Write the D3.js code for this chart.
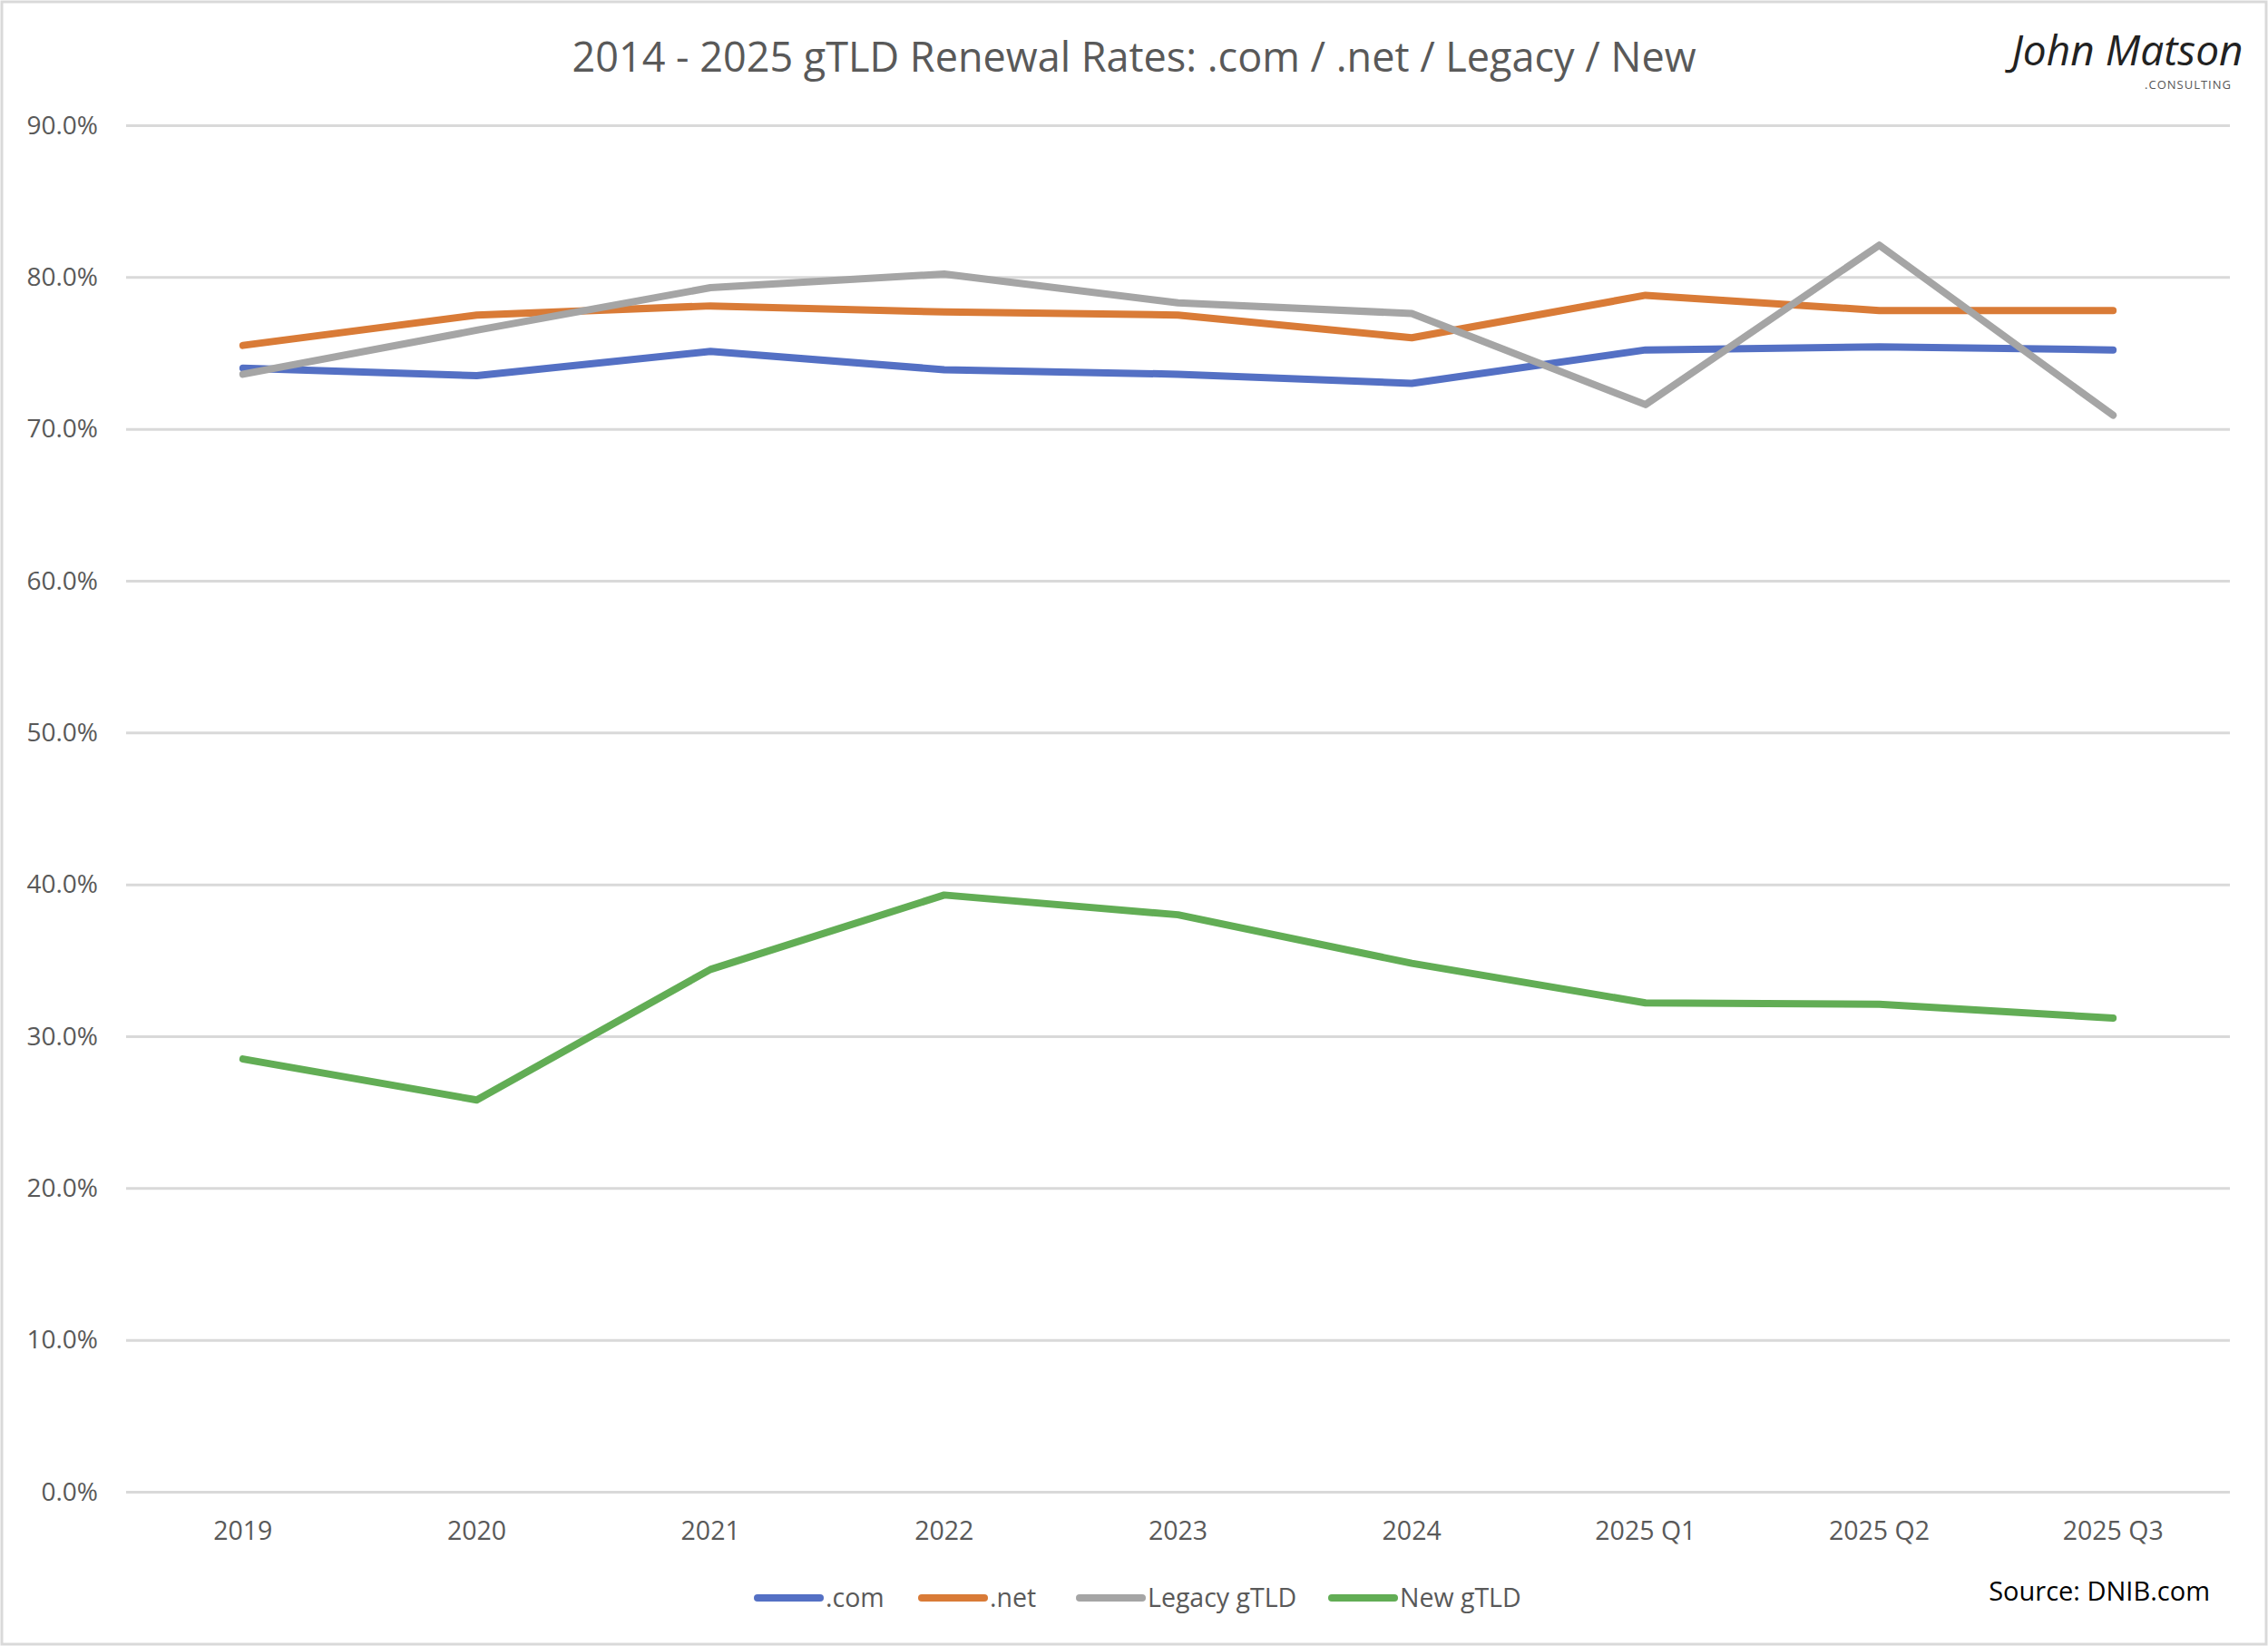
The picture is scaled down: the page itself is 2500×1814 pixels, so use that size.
<!DOCTYPE html>
<html>
<head>
<meta charset="utf-8">
<script src="https://cdn.jsdelivr.net/npm/d3@7"></script>
<style>
  body { margin: 0; background: #fff; }
  svg text { font-family: "Open Sans", sans-serif; }
  .grid line { stroke: #d9d9d9; stroke-width: 3; }
  .grid path { display: none; }
</style>
</head>
<body>
<svg id="chart" width="2500" height="1814"></svg>
<script>
// categories and series
var categories = ["2019", "2020", "2021", "2022", "2023", "2024", "2025 Q1", "2025 Q2", "2025 Q3"];
var comRates    = [74.0, 73.5, 75.1, 73.9, 73.6, 73.0, 75.2, 75.4, 75.2];
var netRates    = [75.5, 77.5, 78.1, 77.7, 77.5, 76.0, 78.8, 77.8, 77.8];
var legacyRates = [73.6, 76.5, 79.3, 80.2, 78.3, 77.6, 71.6, 82.1, 70.9];
var newRates    = [28.5, 25.8, 34.4, 39.3, 38.0, 34.8, 32.2, 32.1, 31.2];
var seriesNames = [".com", ".net", "Legacy gTLD", "New gTLD"];
var seriesColors = ["#5470c4", "#d97b37", "#a5a5a5", "#62ad55"];
var yTicks = [0, 10, 20, 30, 40, 50, 60, 70, 80, 90];

var series = [comRates, netRates, legacyRates, newRates];

var svg = d3.select("#chart");

// outer frame
svg.append("rect")
  .attr("x", 2).attr("y", 2).attr("width", 2496).attr("height", 1810)
  .attr("fill", "#fff").attr("stroke", "#d9d9d9").attr("stroke-width", 3);

var x = d3.scaleBand().domain(categories).range([139, 2458]);
var y = d3.scaleLinear().domain([0, 90]).range([1644, 138]);

// horizontal gridlines
svg.append("g").classed("grid", true)
  .attr("transform", "translate(139,0)")
  .call(d3.axisRight(y).tickValues(yTicks).tickSize(2458 - 139).tickFormat(""));

// y labels
svg.append("g").selectAll("text")
  .data(yTicks).enter().append("text")
  .attr("x", 108).attr("y", function(d) { return y(d); })
  .attr("dy", "0.35em").attr("text-anchor", "end")
  .attr("font-size", 28).attr("fill", "#595959")
  .text(function(d) { return d.toFixed(1) + "%"; });

// x labels
svg.append("g").selectAll("text")
  .data(categories).enter().append("text")
  .attr("x", function(d) { return x(d) + x.bandwidth() / 2; })
  .attr("y", 1697).attr("text-anchor", "middle")
  .attr("font-size", 28.5).attr("fill", "#595959")
  .text(function(d) { return d; });

var line = d3.line()
  .x(function(d, i) { return x(categories[i]) + x.bandwidth() / 2; })
  .y(function(d) { return y(d); });

svg.append("g").selectAll("path")
  .data(series).enter().append("path")
  .attr("d", line)
  .attr("fill", "none")
  .attr("stroke", function(d, i) { return seriesColors[i]; })
  .attr("stroke-width", 8)
  .attr("stroke-linecap", "round")
  .attr("stroke-linejoin", "round");

// title
svg.append("text")
  .attr("x", 1250).attr("y", 79).attr("text-anchor", "middle")
  .attr("font-size", 45).attr("fill", "#595959")
  .text("2014 - 2025 gTLD Renewal Rates: .com / .net / Legacy / New");

// legend
var legendX = [832, 1013, 1187, 1465];
var legend = svg.append("g").selectAll("g")
  .data(seriesNames).enter().append("g")
  .attr("transform", function(d, i) { return "translate(" + legendX[i] + ",1761)"; });
legend.append("line")
  .attr("x1", 3).attr("x2", 72).attr("y1", 0).attr("y2", 0)
  .attr("stroke", function(d, i) { return seriesColors[i]; })
  .attr("stroke-width", 8).attr("stroke-linecap", "round");
legend.append("text")
  .attr("x", 78).attr("dy", "0.35em")
  .attr("font-size", 28.5).attr("fill", "#595959")
  .text(function(d) { return d; });

// source note
svg.append("text")
  .attr("x", 2436).attr("y", 1764).attr("text-anchor", "end")
  .attr("font-size", 29).attr("fill", "#000")
  .text("Source: DNIB.com");

// signature logo
var logo = svg.append("g");
logo.append("text")
  .attr("x", 2345).attr("y", 72).attr("text-anchor", "middle")
  .attr("font-size", 46).attr("font-style", "italic")
  .attr("font-family", "'Liberation Serif', serif").attr("fill", "#222")
  .text("John Matson");
logo.append("text")
  .attr("x", 2460).attr("y", 98)
  .attr("text-anchor", "end")
  .attr("font-size", 13).attr("letter-spacing", 1).attr("fill", "#555")
  .text(".CONSULTING");
</script>
</body>
</html>
